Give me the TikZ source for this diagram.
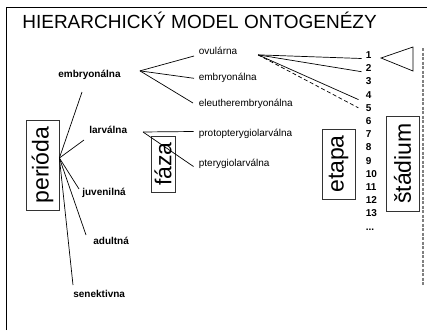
\documentclass[tikz,border=0pt]{standalone}
\usepackage{fontspec}
\setmainfont{Liberation Sans}

\begin{document}
\begin{tikzpicture}[x=1pt,y=-1pt,line width=.7pt,
        lbl/.style={anchor=base west,inner sep=1pt,font=\fontsize{10}{12}\selectfont},
        blbl/.style={lbl,font=\fontsize{10}{12}\selectfont\bfseries},
        tag/.style={draw=black!80,line width=.8pt,inner sep=0pt,font=\fontsize{23}{26}\selectfont}]
        \useasboundingbox (0,0) rectangle (427,330);
        \draw[line width=.9pt] (6.5,330) -- (6.5,7) -- (427,7);
        \node[anchor=base west,inner sep=0pt,font=\fontsize{19}{22}\selectfont] (title) at (22,28) {HIERARCHICKÝ MODEL ONTOGENÉZY};
        % boxed levels
        \node[tag,minimum width=33pt,minimum height=90pt] (per) at (42.5,165) {\rotatebox{90}{perióda}};
        \node[tag,minimum width=24pt,minimum height=56pt] (faza) at (163,164) {\rotatebox{90}{fáza}};
        \node[tag,minimum width=33pt,minimum height=70pt] (etapa) at (338.5,164) {\rotatebox{90}{etapa}};
        \node[tag,minimum width=33pt,minimum height=95pt] (stad) at (402.5,163.5) {\rotatebox{90}{štádium}};
        % periods
        \node[blbl] (emb) at (57,77) {embryonálna};
        \node[blbl] (lar) at (88,133) {larválna};
        \node[blbl] (juv) at (81,195) {juvenilná};
        \node[blbl] (adu) at (92,244) {adultná};
        \node[blbl] (sen) at (72,297) {senektivna};
        % phases
        \node[lbl] (ovu) at (197.5,54.5) {ovulárna};
        \node[lbl] (embf) at (197.5,80) {embryonálna};
        \node[lbl] (eleu) at (197.5,106) {eleutherembryonálna};
        \node[lbl] (proto) at (197.5,136.5) {protopterygiolarválna};
        \node[lbl] (ptery) at (197.5,166.5) {pterygiolarválna};
        % steps
        \foreach \i in {1,...,13}
          \node[blbl] (n\i) at (364.5,{58.5+13.2*(\i-1)}) {\i};
        \node[blbl] (ndots) at (364.5,230) {...};
        \draw ([yshift=7pt]per.east) -- ([shift={(25,15)}]emb.base west);
        \draw ([yshift=7pt]per.east) -- ([shift={(-4,7)}]lar.base west);
        \draw ([yshift=7pt]per.east) -- ([shift={(-2,-6)}]juv.base west);
        \draw ([yshift=7pt]per.east) -- ([shift={(-6,-9)}]adu.base west);
        \draw ([yshift=7pt]per.east) -- ([shift={(1,-12)}]sen.base west);
        \draw ([shift={(18,-3.5)}]emb.east) -- ([shift={(-3.5,1.5)}]ovu.base west);
        \draw ([shift={(18,-3.5)}]emb.east) -- ([shift={(-3.5,-1.7)}]embf.base west);
        \draw ([shift={(18,-3.5)}]emb.east) -- ([shift={(-4.5,-3)}]eleu.base west);
        \draw ([shift={(14.5,2.6)}]lar.east) -- ([shift={(-4,-5)}]proto.base west);
        \draw ([shift={(14.5,2.6)}]lar.east) -- ([shift={(-4,0)}]ptery.base west);
        \draw ([shift={(19.5,4)}]ovu.east) -- ([xshift=-3pt]n1.base west);
        \draw ([shift={(19.5,4)}]ovu.east) -- ([xshift=-3pt]n2.base west);
        \draw ([shift={(19.5,4)}]ovu.east) -- ([shift={(-6,1.5)}]n4.base west);
        \draw[dash pattern=on 4pt off 2.5pt] ([shift={(19.5,4)}]ovu.east) -- ([xshift=-6pt]n5.west);
        % stage marks
        \draw (381,58) -- (413,47) -- (413,71) -- cycle;
        \draw[gray,line width=1.2pt,dash pattern=on 3pt off 1.5pt] (423,48) -- (423,285);
      \end{tikzpicture}
\end{document}
